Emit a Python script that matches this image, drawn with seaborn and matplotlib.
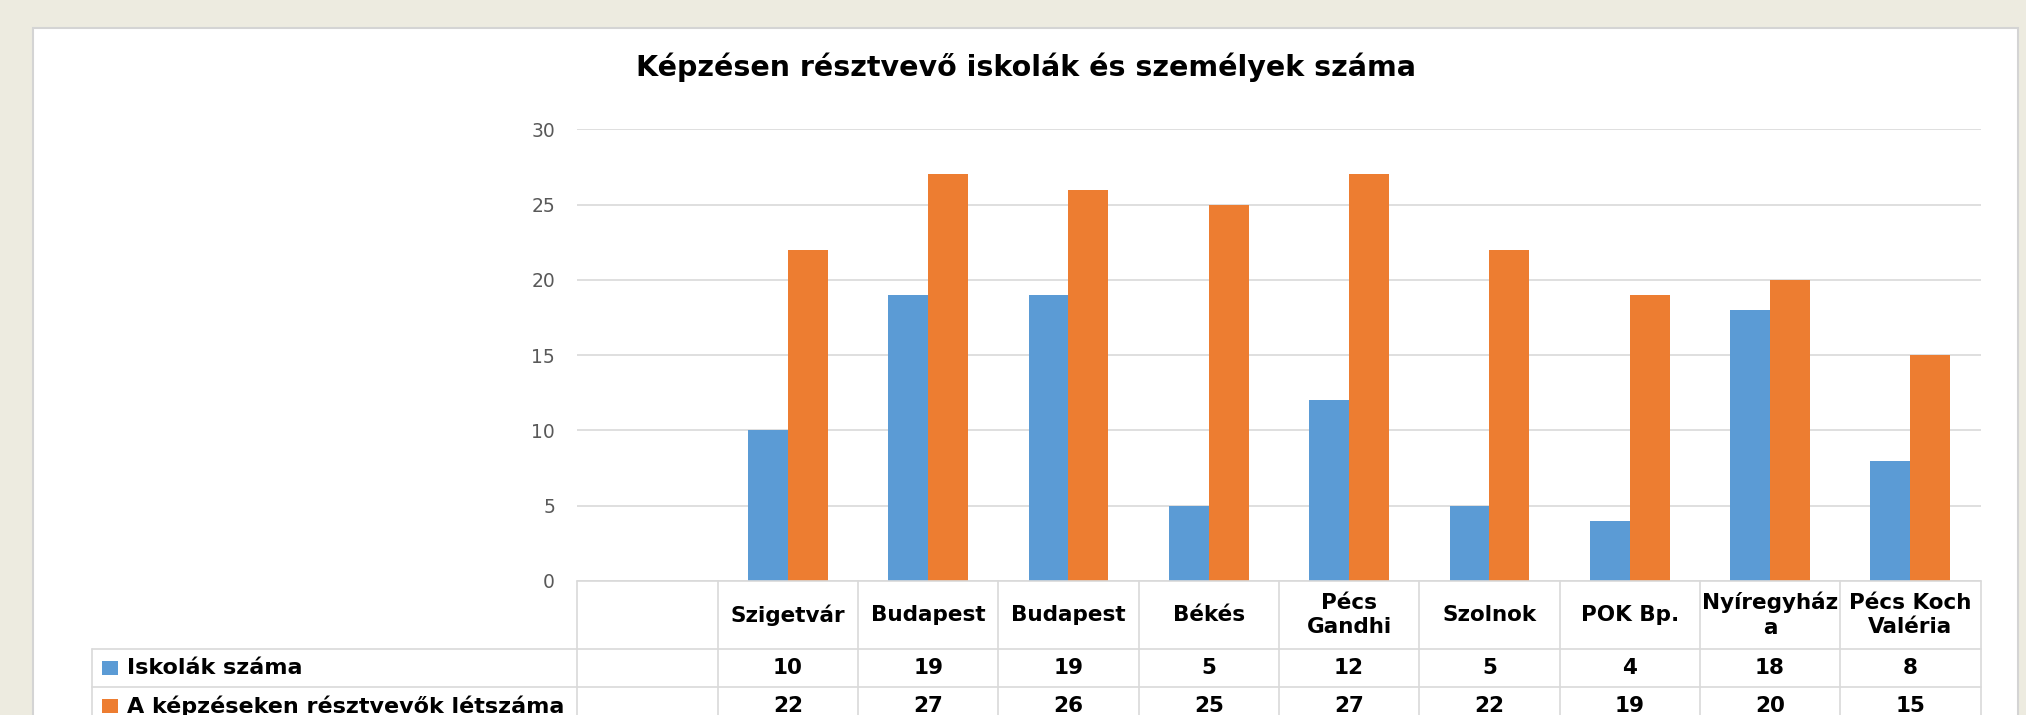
import numpy as np
import pandas as pd
import seaborn as sns
import matplotlib.pyplot as plt
from matplotlib.patches import Rectangle
from matplotlib.lines import Line2D
from matplotlib.transforms import blended_transform_factory

# data (first column of the table is empty)
categories = ['', 'Szigetvár', 'Budapest', 'Budapest', 'Békés', 'Pécs\nGandhi',
              'Szolnok', 'POK Bp.', 'Nyíregyház\na', 'Pécs Koch\nValéria']
iskolak = [np.nan, 10, 19, 19, 5, 12, 5, 4, 18, 8]
letszam = [np.nan, 22, 27, 26, 25, 27, 22, 19, 20, 15]
series = ['Iskolák száma', 'A képzéseken résztvevők létszáma']
title = 'Képzésen résztvevő iskolák és személyek száma'

BLUE = '#5B9BD5'
ORANGE = '#ED7D31'
GRID = '#D9D9D9'
BG = '#EDEBE0'

pos = list(range(len(categories)))
df = pd.DataFrame({
    'pos': pos * 2,
    'series': [series[0]] * len(pos) + [series[1]] * len(pos),
    'value': iskolak + letszam,
})

sns.set_style('white')
plt.rcParams['font.family'] = ['DejaVu Sans']
plt.rcParams['text.color'] = 'black'

W, H = 2026, 715
fig = plt.figure(figsize=(W / 100, H / 100), dpi=100)
fig.patch.set_facecolor(BG)

# white slide panel behind everything
fig.patches.append(Rectangle((33 / W, -0.1), (2018 - 33) / W, 1.1 - 27.5 / H,
                             transform=fig.transFigure, facecolor='white',
                             edgecolor='#D4D4D4', linewidth=1.5, zorder=-5))

ax = fig.add_axes([577.3 / W, 1 - 581 / H, (1980.5 - 577.3) / W, (581 - 129.3) / H])
ax.set_facecolor('none')

sns.barplot(data=df, x='pos', y='value', hue='series', order=pos,
            hue_order=series, palette=[BLUE, ORANGE], width=0.568,
            saturation=1, linewidth=0, legend=False, ax=ax, zorder=3)

ax.set_xlim(-0.5, len(categories) - 0.5)
ax.set_ylim(0, 30)
ax.set_yticks(range(0, 31, 5))
ax.yaxis.grid(True, color=GRID, linewidth=1.2)
ax.set_axisbelow(True)
ax.set_xticks([])
ax.set_xlabel('')
ax.set_ylabel('')
ax.tick_params(axis='y', length=0, pad=16, labelsize=13.5, labelcolor='#595959')
for s in ax.spines.values():
    s.set_visible(False)

fig.text(1026 / W, 1 - 67 / H, title, ha='center', va='center',
         fontsize=20.5, fontweight='bold', color='black')

# data table under the plot
tr = blended_transform_factory(ax.transData, fig.transFigure)
y_top = 1 - 581 / H
y_h = 1 - 649 / H
y_r1 = 1 - 687.3 / H
y_bot = 1 - 725 / H
x_left = -0.5 - (577.3 - 91.7) / ((1980.5 - 577.3) / len(categories))
x_right = len(categories) - 0.5

def hline(x0, x1, y):
    fig.add_artist(Line2D([x0, x1], [y, y], transform=tr, color=GRID, lw=1.2, clip_on=False))

def vline(x, y0, y1):
    fig.add_artist(Line2D([x, x], [y0, y1], transform=tr, color=GRID, lw=1.2, clip_on=False))

hline(-0.5, x_right, y_top)
hline(x_left, x_right, y_h)
hline(x_left, x_right, y_r1)
vline(x_left, y_h, y_bot)
for i in range(len(categories) + 1):
    vline(i - 0.5, y_top, y_bot)

for i, lab in enumerate(categories):
    fig.text(i, (y_top + y_h) / 2, lab, transform=tr, ha='center', va='center',
             fontsize=15.5, fontweight='bold', linespacing=1.3, color='black')

for row, (vals, name, col) in enumerate([(iskolak, series[0], BLUE),
                                          (letszam, series[1], ORANGE)]):
    yc = [(y_h + y_r1) / 2, (y_r1 + y_bot) / 2][row]
    for i, v in enumerate(vals):
        if not np.isnan(v):
            fig.text(i, yc, f'{int(v)}', transform=tr, ha='center', va='center',
                     fontsize=15.5, fontweight='bold', color='black')
    fig.patches.append(Rectangle((102 / W, yc - 7 / H), 16 / W, 14 / H,
                                 transform=fig.transFigure, facecolor=col,
                                 edgecolor='none', zorder=2))
    fig.text(127 / W, yc, name, ha='left', va='center', fontsize=16,
             fontweight='bold', color='black')

plt.savefig('out.png', dpi=100, facecolor=fig.get_facecolor())
plt.close()
